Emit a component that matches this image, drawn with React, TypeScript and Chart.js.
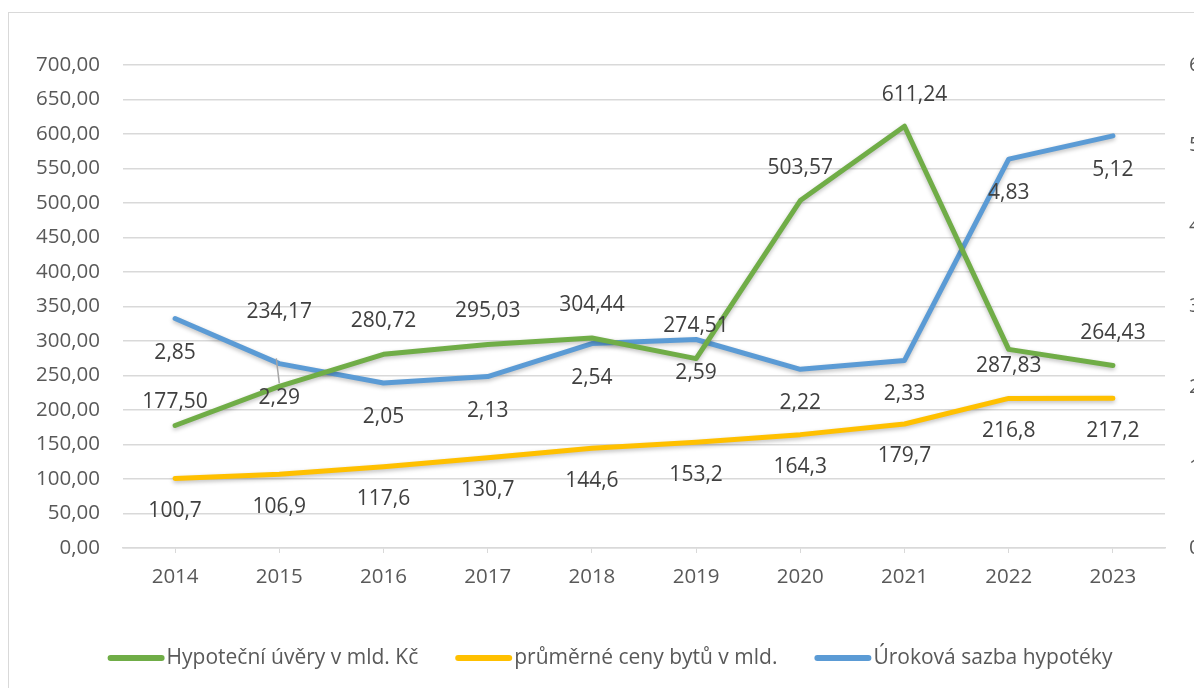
import React, { useEffect, useRef } from "react";
import { Chart, registerables } from "chart.js";

Chart.register(...registerables);

const years = ["2014", "2015", "2016", "2017", "2018", "2019", "2020", "2021", "2022", "2023"];
const mortgageLoans = [177.5, 234.17, 280.72, 295.03, 304.44, 274.51, 503.57, 611.24, 287.83, 264.43];
const flatPrices = [100.7, 106.9, 117.6, 130.7, 144.6, 153.2, 164.3, 179.7, 216.8, 217.2];
const interestRates = [2.85, 2.29, 2.05, 2.13, 2.54, 2.59, 2.22, 2.33, 4.83, 5.12];
const seriesNames = ["Hypoteční úvěry v mld. Kč", "průměrné ceny bytů v mld.", "Úroková sazba hypotéky"];

const FONT = "'Open Sans', 'Noto Sans', sans-serif";
const fmt = (v: number, d: number) => v.toFixed(d).replace(".", ",");

const framePlugin = {
  id: "frame",
  beforeDraw(chart: any) {
    const ctx = chart.ctx;
    ctx.save();
    ctx.fillStyle = "#ffffff";
    ctx.fillRect(0, 0, chart.width, chart.height);
    ctx.strokeStyle = "#d9d9d9";
    ctx.lineWidth = 1;
    ctx.strokeRect(8.5, 12.5, 1400, 900);
    ctx.restore();
  },
  beforeDatasetsDraw(chart: any) {
    const ctx = chart.ctx;
    ctx.save();
    ctx.shadowColor = "rgba(0,0,0,0.25)";
    ctx.shadowBlur = 4;
    ctx.shadowOffsetY = 2;
  },
  afterDatasetsDraw(chart: any) {
    chart.ctx.restore();
  },
};

const labelPlugin = {
  id: "valueLabels",
  afterDatasetsDraw(chart: any, _args: any, opts: any) {
    const ctx = chart.ctx;
    ctx.save();
    ctx.font = `21px ${FONT}`;
    ctx.fillStyle = "#404040";
    ctx.textAlign = "center";
    ctx.textBaseline = "middle";
    chart.data.datasets.forEach((ds: any, di: number) => {
      const meta = chart.getDatasetMeta(di);
      const cfg = opts.series[di];
      meta.data.forEach((pt: any, i: number) => {
        const ov = (cfg.overrides && cfg.overrides[i]) || {};
        const dy = ov.dy !== undefined ? ov.dy : cfg.dy;
        const dx = ov.dx !== undefined ? ov.dx : 0;
        if (ov.leader) {
          ctx.save();
          ctx.strokeStyle = "#a6a6a6";
          ctx.lineWidth = 1.5;
          ctx.beginPath();
          ctx.moveTo(pt.x - 3, pt.y - 28);
          ctx.lineTo(pt.x, pt.y - 3);
          ctx.stroke();
          ctx.restore();
        }
        ctx.fillText(fmt(ds.data[i], cfg.decimals), pt.x + dx, pt.y + dy);
      });
    });
    ctx.restore();
  },
};

const legendPlugin = {
  id: "customLegend",
  afterDraw(chart: any, _args: any, opts: any) {
    const ctx = chart.ctx;
    ctx.save();
    ctx.font = `21px ${FONT}`;
    const lineW = 57;
    const gap = 2;
    const itemGap = 37;
    const items = chart.data.datasets.map((ds: any) => ({
      label: ds.label,
      color: ds.borderColor,
      w: lineW + gap + ctx.measureText(ds.label).width,
    }));
    const total = items.reduce((s: number, it: any) => s + it.w, 0) + itemGap * (items.length - 1);
    let x = opts.centerX - total / 2;
    const y = opts.y;
    items.forEach((it: any) => {
      ctx.strokeStyle = it.color;
      ctx.lineWidth = 6;
      ctx.lineCap = "round";
      ctx.beginPath();
      ctx.moveTo(x + 3, y);
      ctx.lineTo(x + lineW - 3, y);
      ctx.stroke();
      ctx.fillStyle = "#595959";
      ctx.textAlign = "left";
      ctx.textBaseline = "middle";
      ctx.fillText(it.label, x + lineW + gap, y);
      x += it.w + itemGap;
    });
    ctx.restore();
  },
};

export default function App() {
  const canvasRef = useRef<HTMLCanvasElement | null>(null);

  useEffect(() => {
    document.body.style.margin = "0";
    const canvas = canvasRef.current;
    if (!canvas) return;
    const lineDefaults = {
      borderWidth: 5,
      pointRadius: 0,
      pointHoverRadius: 0,
      tension: 0,
      borderCapStyle: "round" as const,
      borderJoinStyle: "round" as const,
      fill: false,
    };
    const chart = new Chart(canvas, {
      type: "line",
      data: {
        labels: years,
        datasets: [
          { ...lineDefaults, label: seriesNames[0], data: mortgageLoans, borderColor: "#70AD47", backgroundColor: "#70AD47", yAxisID: "y" },
          { ...lineDefaults, label: seriesNames[1], data: flatPrices, borderColor: "#FFC000", backgroundColor: "#FFC000", yAxisID: "y" },
          { ...lineDefaults, label: seriesNames[2], data: interestRates, borderColor: "#5B9BD5", backgroundColor: "#5B9BD5", yAxisID: "y1" },
        ],
      },
      options: {
        responsive: false,
        animation: false,
        layout: { padding: { top: 65, left: 0, right: 0, bottom: 0 } },
        plugins: {
          legend: { display: false },
          tooltip: { enabled: false },
          valueLabels: {
            series: [
              { decimals: 2, dy: -33, overrides: { 0: { dy: -24 }, 1: { dy: -74, leader: true }, 7: { dy: -31, dx: 10 }, 8: { dy: 17 } } },
              { decimals: 1, dy: 32.5 },
              { decimals: 2, dy: 34 },
            ],
          },
          customLegend: { centerX: 610, y: 658 },
        } as any,
        scales: {
          x: {
            offset: true,
            grid: { display: true, drawOnChartArea: false, drawTicks: true, tickLength: 5, color: "#d9d9d9", offset: false },
            border: { display: true, color: "#d9d9d9", width: 1.5 },
            ticks: { color: "#595959", font: { family: FONT, size: 20.5 }, padding: 12, maxRotation: 0 },
            afterFit: (s: any) => { s.height = 140; },
          },
          y: {
            position: "left",
            min: 0,
            max: 700,
            grid: { color: "#d9d9d9", lineWidth: 1.5, drawTicks: false },
            border: { display: false },
            ticks: {
              stepSize: 50,
              color: "#595959",
              font: { family: FONT, size: 20.5 },
              padding: 23,
              callback: (v: any) => fmt(Number(v), 2),
            },
            afterFit: (s: any) => { s.width = 123; },
          },
          y1: {
            position: "right",
            min: 0,
            max: 6,
            grid: { display: false, drawOnChartArea: false },
            border: { display: false },
            ticks: {
              stepSize: 1,
              color: "#595959",
              font: { family: FONT, size: 20.5 },
              padding: 16,
              callback: (v: any) => String(v),
            },
            afterFit: (s: any) => { s.width = 29; },
          },
        },
      },
      plugins: [framePlugin, labelPlugin, legendPlugin],
    });
    return () => chart.destroy();
  }, []);

  return (
    <div style={{ width: 1194, height: 688, overflow: "hidden", position: "relative" }}>
      <canvas ref={canvasRef} width={1194} height={688} style={{ display: "block" }} />
    </div>
  );
}
